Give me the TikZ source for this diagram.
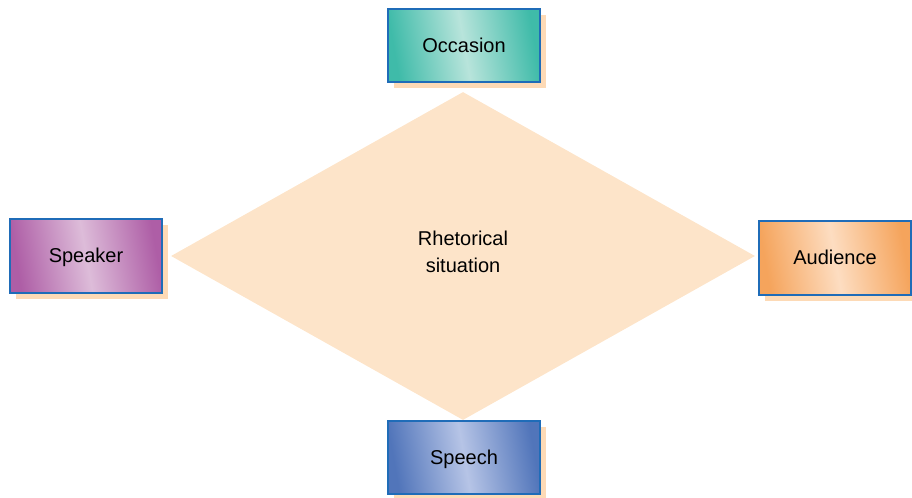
\documentclass[tikz,border=0pt]{standalone}
\usepackage{fontspec}
\setmainfont{Liberation Sans}
\usetikzlibrary{shapes.geometric,shadows}

\definecolor{boxline}{HTML}{1F6CB8}
\definecolor{peach}{HTML}{FDDAB6}
\definecolor{situation}{HTML}{FDE4C9}
\definecolor{tealdark}{HTML}{3FBBA9}
\definecolor{teallight}{HTML}{B8E4DB}
\definecolor{plumdark}{HTML}{AE5EA6}
\definecolor{plumlight}{HTML}{DDBCD9}
\definecolor{orangedark}{HTML}{F5A45C}
\definecolor{orangelight}{HTML}{FDDDC1}
\definecolor{bluedark}{HTML}{5175BA}
\definecolor{bluelight}{HTML}{B6C4E6}

\begin{document}
\begin{tikzpicture}[x=0.75pt, y=-0.75pt,
  font=\fontsize{15}{20}\selectfont,
  box/.style={rectangle, draw=boxline, line width=1.5pt, minimum width=114pt,
    minimum height=55pt, inner sep=0pt, text height=11pt, text depth=1pt,
    drop shadow={shadow xshift=4.5pt, shadow yshift=-4.5pt, fill=peach, opacity=1}},
  paint/.style 2 args={left color=#1, right color=#1, middle color=#2, shading angle=100}]
  \useasboundingbox (0,0) rectangle (912,498);
  % the diamond in the middle
  \node [diamond, fill=situation, minimum width=438pt, minimum height=246pt,
    inner sep=0pt] (rhet) at (463,256) {};
  \node [align=center] (rhettext) at ([yshift=3pt]rhet.center) {Rhetorical\\situation};
  % the four corners
  \node [box, paint={tealdark}{teallight}] (occasion) at (464,45.5) {Occasion};
  \node [box, paint={plumdark}{plumlight}] (speaker) at (86,256) {Speaker};
  \node [box, paint={orangedark}{orangelight}] (audience) at (835,258) {Audience};
  \node [box, paint={bluedark}{bluelight}] (speech) at (464,457.5) {Speech};
\end{tikzpicture}
\end{document}
